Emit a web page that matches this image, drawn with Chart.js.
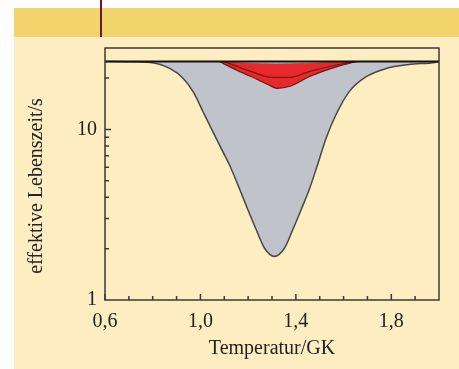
<!DOCTYPE html>
<html>
<head>
<meta charset="utf-8">
<script src="https://cdn.jsdelivr.net/npm/chart.js@4"></script>
<style>
  body { margin: 0; background: #fff; width: 459px; height: 369px; position: relative; overflow: hidden; }
  #band { position: absolute; left: 14px; top: 8px; width: 445px; height: 29px; background: #f2d46c; }
  #mark { position: absolute; left: 100px; top: 0; width: 2px; height: 37px; background: #6b1a2a; }
  #wrap { position: absolute; left: 14px; top: 37px; width: 445px; height: 332px; background: #fdedc0; }
</style>
</head>
<body>
<div id="band"></div>
<div id="mark"></div>
<div id="wrap"><canvas id="myChart"></canvas></div>
<script>
// Temperatur (GK) und effektive Lebenszeit (s)
const grayT = [0.6, 0.7, 0.79, 0.873, 0.928, 0.97, 1.012, 1.053, 1.095, 1.123, 1.165, 1.199, 1.234, 1.269, 1.31, 1.352, 1.387, 1.422, 1.456, 1.49, 1.526, 1.567, 1.623, 1.693, 1.776, 1.873, 1.984, 2.0];
const grayTau = [25, 24.95, 24.7, 22.7, 19.9, 16.6, 12.6, 9.64, 7.35, 6.14, 4.44, 3.38, 2.58, 2.01, 1.80, 2.01, 2.58, 3.38, 4.44, 6.14, 8.82, 12.1, 16.6, 20.3, 22.7, 24.0, 24.7, 25];

const topT = grayT.slice();
const topTau = grayT.map(() => 25);

const redTopT = [1.08, 1.2, 1.32, 1.45, 1.655];
const redTopTau = [25, 24.4, 24.2, 24.4, 25];

const redLowT = [1.08, 1.15, 1.21, 1.28, 1.32, 1.375, 1.46, 1.58, 1.655];
const redLowTau = [25, 22.3, 20.5, 18.4, 17.4, 17.9, 20.5, 23.5, 25];

const redMidT = [1.1, 1.21, 1.30, 1.375, 1.46, 1.58, 1.66];
const redMidTau = [25, 21.9, 20.2, 20.2, 21.9, 24.0, 25];

const xTicks = [0.6, 1.0, 1.4, 1.8];
const yTicks = [1, 10];

const pts = (xs, ys) => xs.map((x, i) => ({ x: x, y: ys[i] }));
const serif = "'Liberation Serif', 'DejaVu Serif', serif";

// keine automatischen Randabstände der Achsen
const noPad = (s) => { s.paddingTop = 0; s.paddingBottom = 0; s.paddingLeft = 0; s.paddingRight = 0; };

// Rahmen, nach innen zeigende Ticks und y-Achsentitel
const framePlugin = {
  id: "frame",
  afterDraw(chart) {
    const { ctx, chartArea: a, scales } = chart;
    const xs = scales.x, ys = scales.y;
    ctx.save();
    ctx.strokeStyle = "#3a3a3a";
    ctx.lineWidth = 1.5;
    ctx.strokeRect(a.left, a.top, a.right - a.left, a.bottom - a.top);
    ctx.beginPath();
    for (let i = 6; i <= 19; i++) {
      const v = i / 10;
      const px = xs.getPixelForValue(v);
      const len = xTicks.some(t => Math.abs(t - v) < 1e-6) ? 6 : 4;
      ctx.moveTo(px, a.bottom);
      ctx.lineTo(px, a.bottom - len);
    }
    [2, 3, 4, 5, 6, 7, 8, 9, 10, 20].forEach(v => {
      const py = ys.getPixelForValue(v);
      const len = v === 10 ? 6 : 4;
      ctx.moveTo(a.left, py);
      ctx.lineTo(a.left + len, py);
    });
    ctx.stroke();
    ctx.fillStyle = "#222";
    ctx.font = "20px " + serif;
    ctx.textAlign = "center";
    ctx.textBaseline = "middle";
    ctx.translate(23, 149);
    ctx.rotate(-Math.PI / 2);
    ctx.fillText("effektive Lebenszeit/s", 0, 0);
    ctx.restore();
  },
};

const ctx = document.getElementById("myChart").getContext("2d");
const myChart = new Chart(ctx, {
  type: "line",
  data: {
    datasets: [
      {
        // obere Kurve
        data: pts(topT, topTau),
        borderColor: "#111",
        borderWidth: 2,
        pointRadius: 0,
        fill: false,
      },
      {
        data: pts(redMidT, redMidTau),
        borderColor: "#7a1818",
        borderWidth: 1.2,
        pointRadius: 0,
        cubicInterpolationMode: "monotone",
        fill: false,
      },
      {
        data: pts(redLowT, redLowTau),
        borderColor: "#6e1414",
        borderWidth: 1.2,
        backgroundColor: "#e8282a",
        pointRadius: 0,
        cubicInterpolationMode: "monotone",
        fill: 3,
      },
      {
        data: pts(redTopT, redTopTau),
        borderColor: "rgba(90,90,90,0.7)",
        borderWidth: 1,
        pointRadius: 0,
        cubicInterpolationMode: "monotone",
        fill: false,
      },
      {
        data: pts(grayT, grayTau),
        borderColor: "#474747",
        borderWidth: 1.5,
        backgroundColor: "#c0c3ca",
        pointRadius: 0,
        cubicInterpolationMode: "monotone",
        fill: 0,
      },
    ],
  },
  options: {
    responsive: true,
    maintainAspectRatio: false,
    animation: false,
    layout: { padding: { left: 0, top: 11, right: 20, bottom: 0 } },
    plugins: { legend: { display: false }, tooltip: { enabled: false } },
    scales: {
      x: {
        type: "linear",
        min: 0.6,
        max: 2.0,
        grid: { display: false, drawTicks: false },
        border: { display: false },
        afterBuildTicks: (s) => { s.ticks = xTicks.map(v => ({ value: v })); },
        afterFit: (s) => { s.height = 69; noPad(s); },
        ticks: {
          padding: 10,
          color: "#222",
          font: { family: serif, size: 20 },
          callback: (v) => v.toFixed(1).replace(".", ","),
        },
        title: {
          display: true,
          text: "Temperatur/GK",
          color: "#222",
          font: { family: serif, size: 20 },
          padding: { top: 0, bottom: 8 },
        },
      },
      y: {
        type: "logarithmic",
        min: 1,
        max: 30,
        grid: { display: false, drawTicks: false },
        border: { display: false },
        afterBuildTicks: (s) => { s.ticks = yTicks.map(v => ({ value: v })); },
        afterFit: (s) => { s.width = 91; noPad(s); },
        ticks: {
          padding: 8,
          color: "#222",
          font: { family: serif, size: 20 },
          callback: (v) => String(v),
        },
      },
    },
  },
  plugins: [framePlugin],
});
</script>
</body>
</html>
